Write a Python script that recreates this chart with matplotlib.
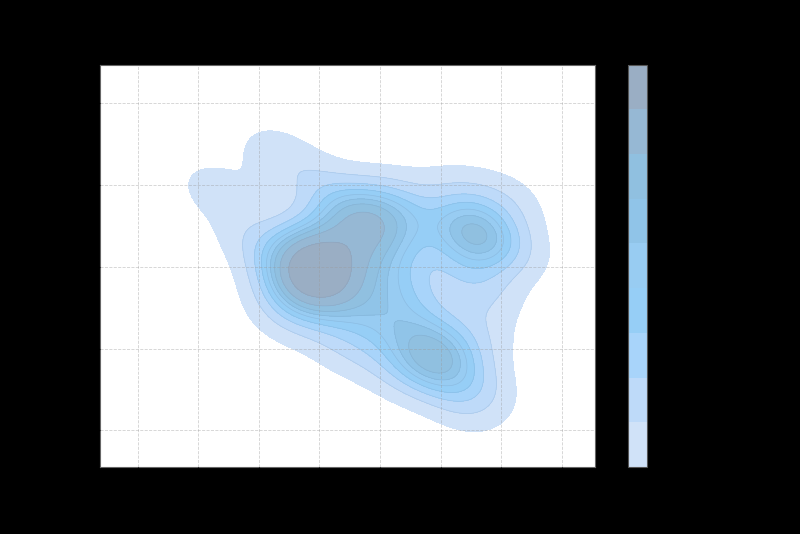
import matplotlib
matplotlib.use("Agg")
import matplotlib.pyplot as plt
import numpy as np

# sample points behind the density estimate
xs = [2.6, 2.8, 3.0, 3.2, 2.9, 2.7, 3.1, 3.3, 2.5, 2.9, 3.0, 2.8, 3.15, 2.65,
      3.5, 3.7, 3.9, 3.6, 3.8, 3.4,
      3.9, 4.2, 4.0, 4.4, 3.8, 4.3, 4.6, 4.1, 4.5, 3.5,
      4.85, 5.0, 4.8, 4.7, 5.1, 4.95,
      5.5, 5.6, 5.55, 5.7, 5.4,
      1.25, 2.25, 1.85, 2.9, 4.3, 5.3, 6.2, 5.6, 5.65, 5.4, 4.3, 3.4,
      2.4, 6.1, 5.75, 5.35]
ys = [2.1, 1.8, 2.0, 1.9, 2.2, 1.9, 1.7, 2.1, 1.8, 1.6, 2.3, 2.05, 2.15, 1.7,
      2.5, 2.6, 2.4, 2.3, 2.7, 2.7,
      2.0, 1.8, 1.5, 2.2, 1.2, 1.3, 1.6, 2.6, 2.6, 1.6,
      0.95, 0.85, 1.1, 0.8, 1.0, 0.7,
      2.38, 2.43, 2.28, 2.48, 2.43,
      2.95, 3.4, 2.35, 3.05, 2.85, 2.9, 2.2, 1.2, 0.55, 0.3, 0.7, 1.0,
      1.4, 2.8, 1.7, 1.9]

# one colour per filled band, lowest density first
band_colors = ["#d0e2f8", "#bedaf9", "#a8d4fa", "#96cef6", "#98ccf2",
               "#90c4e8", "#90c0e0", "#96b8d4", "#9aaec4"]

BW_ADJUST = 0.8
THRESH = 0.05
N_LEVELS = 10

# gaussian kde (scott bandwidth, full covariance), like seaborn's kdeplot
pts = np.vstack([xs, ys])
n = pts.shape[1]
cov = np.cov(pts) * (n ** (-1 / 6) * BW_ADJUST) ** 2
inv = np.linalg.inv(cov)
gx = np.linspace(-0.7, 7.7, 260)
gy = np.linspace(-0.5, 4.6, 220)
XX, YY = np.meshgrid(gx, gy)
grid = np.vstack([XX.ravel(), YY.ravel()])
dens = np.zeros(grid.shape[1])
for i in range(n):
    d = grid - pts[:, i:i + 1]
    dens += np.exp(-0.5 * np.sum(d * (inv @ d), axis=0))
dens = dens.reshape(XX.shape)

# iso-proportion levels
sv = np.sort(dens.ravel())[::-1]
cum = np.cumsum(sv) / sv.sum()
props = np.linspace(THRESH, 1, N_LEVELS)
levels = np.unique(np.take(sv, np.searchsorted(cum, 1 - props), mode="clip"))

fig = plt.figure(figsize=(8, 5.34), dpi=100, facecolor="black")
ax = fig.add_axes([0.1256, 0.1255, 0.6187, 0.7534])
cax = fig.add_axes([0.7844, 0.1255, 0.0244, 0.7534])
ax.set_facecolor("white")
ax.set_axisbelow(False)
ax.grid(True, ls="--", lw=0.6, color="#9a9a9a", alpha=0.45)

cs = ax.contourf(XX, YY, dens, levels=levels, colors=band_colors)
ax.contour(XX, YY, dens, levels=levels[1:-1], colors="#5a80aa",
           linewidths=0.5, alpha=0.2)
cb = fig.colorbar(cs, cax=cax)
cb.outline.set_edgecolor("#555555")

ax.set_xlim(-0.616, 7.556)
ax.set_ylim(-0.449, 4.472)
ax.set_xticks(range(0, 8))
ax.set_yticks(range(0, 5))
for s in ax.spines.values():
    s.set_color("#666666")
    s.set_linewidth(0.8)

fig.savefig("out.png", dpi=100, facecolor="black")
